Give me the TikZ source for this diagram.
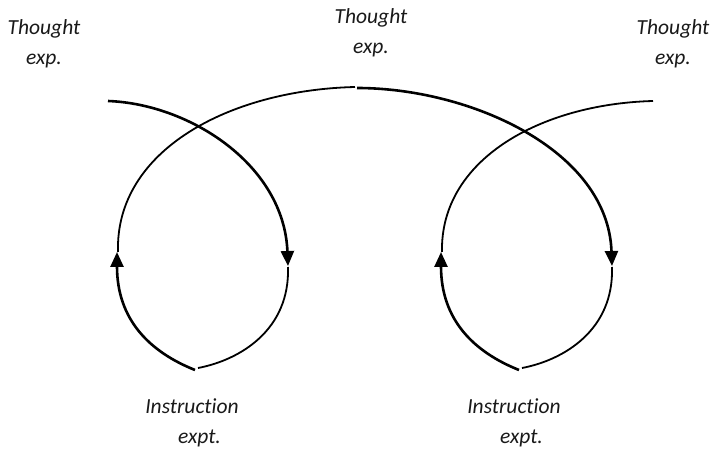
\documentclass[tikz,border=0pt]{standalone}
\usepackage{fontspec}
\setmainfont{Carlito}[Ligatures={NoCommon}]
\usetikzlibrary{arrows.meta}
\tikzset{
  lbl/.style={font=\fontsize{21.5bp}{30bp}\selectfont\itshape, align=center, inner sep=0pt, text=black!90},
  thick line/.style={line width=2.6bp, -{Triangle[length=15bp,width=13bp]}},
  thin line/.style={line width=1.8bp},
}
\begin{document}
\begin{tikzpicture}[x=1bp,y=-1bp]
\useasboundingbox (0,0) rectangle (715,450);
% labels
\node[lbl] (t1) at (44,44) {Thought\\exp.};
\node[lbl] (t2) at (371,33) {Thought\\exp.};
\node[lbl] (t3) at (673,44) {Thought\\exp.};
\node[lbl] (i1) at (192,423) {Instruction\\\hspace*{0.7em}expt.};
\node[lbl] (i2) at (514,423) {Instruction\\\hspace*{0.7em}expt.};
% key points
\coordinate (a0) at (108,101);
\coordinate (a1) at (288,266);
\coordinate (b0) at (288,267);
\coordinate (b1) at (198,368);
\coordinate (c0) at (195,370);
\coordinate (c1) at (117,252);
\coordinate (d0) at (118,252);
\coordinate (d1) at (355,87);
\coordinate (e0) at (357,88);
\coordinate (e1) at (612,266);
\coordinate (f0) at (612,267);
\coordinate (f1) at (522,368);
\coordinate (g0) at (519,370);
\coordinate (g1) at (441,252);
\coordinate (h0) at (442,252);
\coordinate (h1) at (653,101);
% left loop
\draw[thick line] (a0) .. controls (190,104) and (284,165) .. (a1);
\draw[thin line] (b0) .. controls (290,330) and (240,360) .. (b1);
\draw[thick line] (c0) .. controls (150,352) and (117,320) .. (c1);
\draw[thin line] (d0) .. controls (115,150) and (230,90) .. (d1);
% right part
\draw[thick line] (e0) .. controls (470,88) and (608,150) .. (e1);
\draw[thin line] (f0) .. controls (614,330) and (564,360) .. (f1);
\draw[thick line] (g0) .. controls (474,352) and (441,320) .. (g1);
\draw[thin line] (h0) .. controls (440,160) and (540,104) .. (h1);
\end{tikzpicture}
\end{document}
